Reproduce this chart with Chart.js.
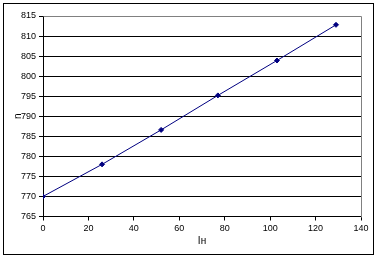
<!DOCTYPE html>
<html>
<head>
<meta charset="utf-8">
<script src="https://cdn.jsdelivr.net/npm/chart.js@4"></script>
<style>
  html, body { margin: 0; padding: 0; background: #fff; }
  #wrap { position: relative; width: 378px; height: 259px; }
</style>
</head>
<body>
<div id="wrap"><canvas id="chart" width="378" height="259"></canvas></div>
<script>
const xValues = [0, 26, 52, 77, 103, 129];
const yValues = [770, 778, 786.6, 795.2, 803.9, 812.8];
const xTitle = "Iн";
const yTitle = "n";

const points = xValues.map((x, i) => ({ x: x, y: yValues[i] }));

const frame = {
  id: "frame",
  afterDraw(chart) {
    const c = chart.ctx;
    const a = chart.chartArea;
    c.save();
    c.lineWidth = 1;
    c.strokeStyle = "#808080";
    c.beginPath();
    c.moveTo(Math.round(a.left) + 0.5, Math.round(a.top) + 0.5);
    c.lineTo(Math.round(a.right) + 0.5, Math.round(a.top) + 0.5);
    c.lineTo(Math.round(a.right) + 0.5, Math.round(a.bottom) + 0.5);
    c.stroke();
    c.strokeStyle = "#000";
    c.strokeRect(3.5, 3.5, 370, 251);
    c.restore();
  },
};

Chart.defaults.font.family = "'Liberation Sans', Arial, sans-serif";
Chart.defaults.font.size = 9;
Chart.defaults.color = "#000";

new Chart(document.getElementById("chart"), {
  type: "scatter",
  data: {
    datasets: [
      {
        data: points,
        showLine: true,
        borderColor: "#000080",
        backgroundColor: "#000080",
        borderWidth: 1,
        pointStyle: "rectRot",
        pointRadius: 2.5,
        pointHoverRadius: 2.5,
      },
    ],
  },
  options: {
    responsive: false,
    animation: false,
    layout: { padding: { left: 0, top: 16, right: 17, bottom: 4 } },
    plugins: { legend: { display: false }, tooltip: { enabled: false } },
    scales: {
      x: {
        type: "linear",
        min: 0,
        max: 140,
        ticks: { stepSize: 20, padding: 3, maxRotation: 0 },
        grid: { drawOnChartArea: false, drawTicks: true, tickLength: 4, color: "#000" },
        border: { color: "#000", width: 1 },
        title: { display: true, text: xTitle, font: { size: 10 }, padding: { top: 8, bottom: 8 } },
        afterFit(scale) { scale.height = 38.5; },
      },
      y: {
        min: 765,
        max: 815,
        ticks: { stepSize: 5, padding: 3 },
        grid: { color: "#000", tickLength: 4, drawTicks: true },
        border: { color: "#000", width: 1 },
        title: { display: true, text: yTitle, font: { size: 10 }, padding: { top: 12, bottom: 12 } },
        afterFit(scale) { scale.width = 43; },
      },
    },
  },
  plugins: [frame],
});
</script>
</body>
</html>
